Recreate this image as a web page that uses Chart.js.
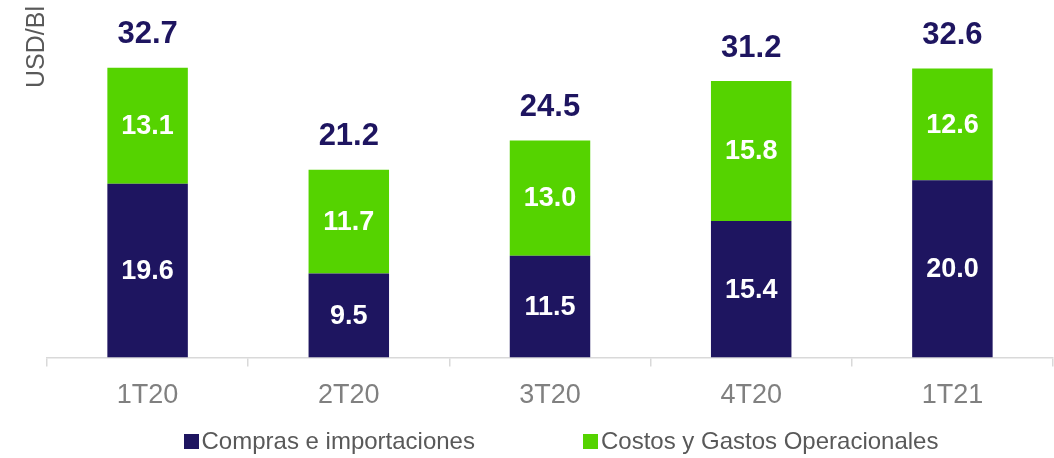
<!DOCTYPE html>
<html>
<head>
<meta charset="utf-8">
<script src="https://cdn.jsdelivr.net/npm/chart.js@4/dist/chart.umd.min.js"></script>
<style>
  html, body { margin: 0; padding: 0; background: #fff; }
  #wrap { width: 1054px; height: 458px; position: relative; }
  #legend {
    position: absolute; left: 0; top: 425px; width: 1054px; height: 32px;
    display: flex; justify-content: center; align-items: center;
    padding-left: 68px; box-sizing: border-box;
    font-family: 'Liberation Sans', Arial, sans-serif; font-size: 24px; color: #595959;
  }
  #legend .item { display: flex; align-items: center; margin-right: 108px; }
  #legend .item:last-child { margin-right: 0; }
  #legend .box { width: 15px; height: 15px; margin-right: 3px; }
</style>
</head>
<body>
<div id="wrap"><canvas id="chart"></canvas><div id="legend"></div></div>
<script>
var categories = ["1T20", "2T20", "3T20", "4T20", "1T21"];
var compras = [19.6, 9.5, 11.5, 15.4, 20.0];
var costos = [13.1, 11.7, 13.0, 15.8, 12.6];
var totals = [32.7, 21.2, 24.5, 31.2, 32.6];
var yTitle = "USD/Bl";

var navy = "#1e1560";
var green = "#55d300";
var font = "'Liberation Sans', Arial, sans-serif";

// draws the values inside the bars, the totals on top and the axis title
var labelsPlugin = {
    id: "labelsPlugin",
    afterDatasetsDraw: function(chart) {
        var ctx = chart.ctx;
        ctx.save();
        ctx.textAlign = "center";
        ctx.textBaseline = "middle";
        ctx.font = "bold 27px " + font;
        ctx.fillStyle = "#ffffff";
        chart.data.datasets.forEach(function(ds, di) {
            var meta = chart.getDatasetMeta(di);
            meta.data.forEach(function(bar, i) {
                var mid = (bar.y + bar.base) / 2;
                ctx.fillText(ds.data[i].toFixed(1), bar.x, mid + 1);
            });
        });
        var top = chart.getDatasetMeta(1);
        ctx.font = "bold 31px " + font;
        ctx.fillStyle = navy;
        top.data.forEach(function(bar, i) {
            ctx.fillText(totals[i].toFixed(1), bar.x, bar.y - 33);
        });
        // y axis title, rotated
        ctx.translate(37, 88);
        ctx.rotate(-Math.PI / 2);
        ctx.textAlign = "left";
        ctx.font = "25px " + font;
        ctx.fillStyle = "#595959";
        ctx.fillText(yTitle, 0, 0);
        ctx.restore();
    }
};

var chart = new Chart(document.getElementById("chart"), {
    type: "bar",
    data: {
        labels: categories,
        datasets: [{
            label: "Compras e importaciones",
            data: compras,
            backgroundColor: navy
        }, {
            label: "Costos y Gastos Operacionales",
            data: costos,
            backgroundColor: green
        }]
    },
    options: {
        responsive: true,
        maintainAspectRatio: false,
        animation: false,
        categoryPercentage: 1,
        barPercentage: 0.4,
        layout: { padding: { left: 47, right: 1, top: 3, bottom: 33 } },
        plugins: {
            tooltip: { enabled: false },
            legend: { display: false }
        },
        scales: {
            x: {
                stacked: true,
                grid: {
                    offset: true,
                    drawOnChartArea: false,
                    drawTicks: true,
                    tickLength: 9,
                    color: "#d9d9d9",
                    lineWidth: 1.5
                },
                border: { color: "#d9d9d9", width: 1.5 },
                ticks: {
                    font: { family: font, size: 27 },
                    color: "#808080",
                    padding: 13
                }
            },
            y: {
                stacked: true,
                display: false,
                min: 0,
                max: 40
            }
        }
    },
    plugins: [labelsPlugin]
});

// legend as html, built from the datasets
var legend = document.getElementById("legend");
chart.data.datasets.forEach(function(ds) {
    var item = document.createElement("div");
    item.className = "item";
    var box = document.createElement("span");
    box.className = "box";
    box.style.background = ds.backgroundColor;
    var txt = document.createElement("span");
    txt.textContent = ds.label;
    item.appendChild(box);
    item.appendChild(txt);
    legend.appendChild(item);
});
</script>
</body>
</html>
